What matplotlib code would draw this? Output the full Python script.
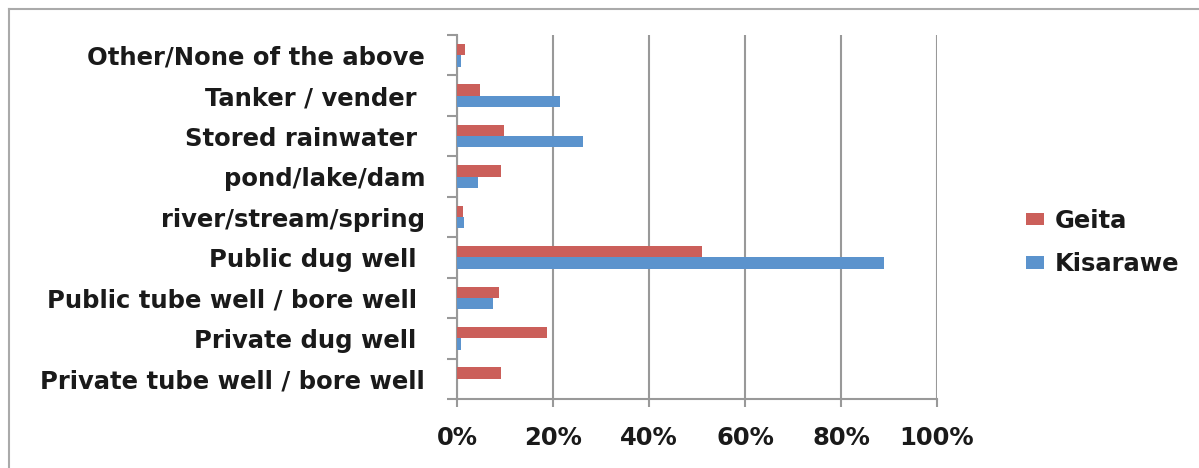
import matplotlib.pyplot as plt
from matplotlib.lines import Line2D
import numpy as np

# categories from bottom to top
sources = ['Private tube well / bore well', 'Private dug well ', 'Public tube well / bore well ',
           'Public dug well ', 'river/stream/spring', 'pond/lake/dam',
           'Stored rainwater ', 'Tanker / vender ', 'Other/None of the above']
geita = [9.1, 18.8, 8.8, 51.0, 1.3, 9.1, 9.8, 4.8, 1.7]
kisarawe = [0.0, 0.8, 7.6, 89.0, 1.5, 4.4, 26.2, 21.5, 0.8]
xticks = [0, 20, 40, 60, 80, 100]

red = '#CB5F5A'
blue = '#5B93CD'

plt.rcParams['font.family'] = ['DejaVu Sans']
fs = 17.5

fig = plt.figure(figsize=(11.99, 4.68), dpi=100)
ax = fig.add_axes([457/1199, 1-399/468, 480/1199, (399-35)/468])

y = np.arange(len(sources))
h = 0.28
ax.barh(y + h/2, geita, height=h, color=red, label='Geita', zorder=3)
ax.barh(y - h/2, kisarawe, height=h, color=blue, label='Kisarawe', zorder=3)

ax.set_xlim(0, 100)
ax.set_ylim(-0.5, len(sources) - 0.5)
ax.set_xticks(xticks)
ax.set_xticklabels([f'{v}%' for v in xticks], fontsize=fs, fontweight='bold', color='#1a1a1a')
ax.set_yticks(y)
ax.set_yticklabels(sources, fontsize=fs, fontweight='bold', color='#1a1a1a')
ax.tick_params(axis='y', length=0, pad=23)
ax.tick_params(axis='x', length=5.5, width=1.5, color='#999999', pad=14)
ax.set_yticks(np.arange(-0.5, len(sources), 1), minor=True)
ax.tick_params(axis='y', which='minor', length=7.5, width=1.5, color='#999999')

ax.xaxis.grid(True, color='#999999', linewidth=1.5, zorder=0)
for s in ['top', 'right']:
    ax.spines[s].set_visible(False)
for s in ['left', 'bottom']:
    ax.spines[s].set_color('#999999')
    ax.spines[s].set_linewidth(1.5)

ax.legend(loc='center left', bbox_to_anchor=(1.14, 0.43), frameon=False,
          prop={'weight': 'bold', 'size': fs}, labelcolor='#1a1a1a',
          handlelength=0.74, handleheight=0.41, handletextpad=0.42, labelspacing=0.8)

# outer frame (top and left edges)
fig.add_artist(Line2D([9/1199, 9/1199], [0, 1-9/468], color='#aaaaaa', linewidth=1.5))
fig.add_artist(Line2D([9/1199, 1], [1-9/468, 1-9/468], color='#aaaaaa', linewidth=1.5))

fig.savefig('out.png', dpi=100)
